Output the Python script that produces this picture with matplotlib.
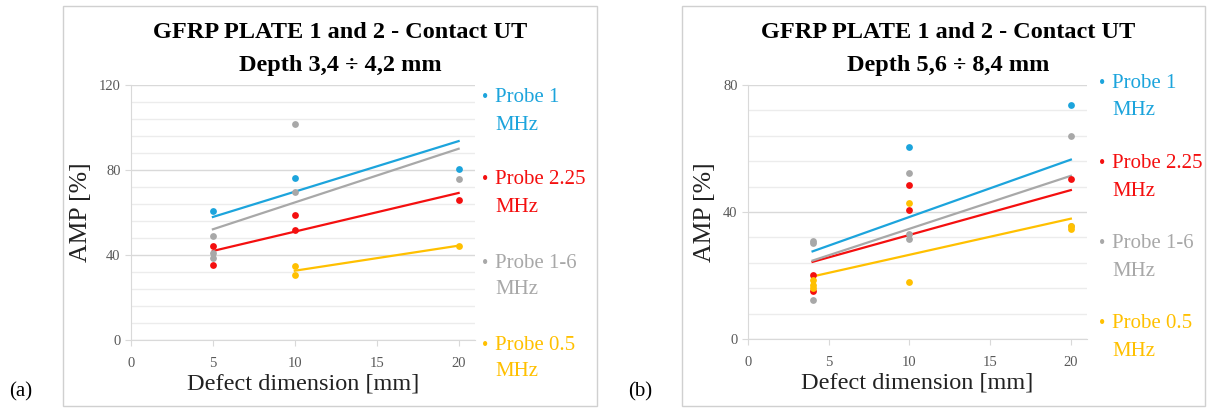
import matplotlib.pyplot as plt
from matplotlib.patches import Rectangle

plt.rcParams['font.family'] = ['Liberation Serif', 'DejaVu Serif']

blue = '#1ca4dc'
red = '#f40f0f'
gray = '#a8a8a8'
yellow = '#ffc000'
grid_major = '#d9d9d9'
grid_minor = '#ececec'

probe_names = ['Probe 1', 'Probe 2.25', 'Probe 1-6', 'Probe 0.5']
probe_colors = [blue, red, gray, yellow]

# panel (a): depth 3,4 - 4,2 mm
a_x_p1 = [5, 10, 20]
a_y_p1 = [60.7, 76.2, 80.3]
a_x_p225 = [5, 5, 10, 10, 20]
a_y_p225 = [44.4, 35.1, 58.7, 51.9, 65.7]
a_x_p16 = [5, 5, 5, 10, 10, 20]
a_y_p16 = [48.9, 41.0, 38.7, 101.6, 69.8, 75.9]
a_x_p05 = [10, 10, 20]
a_y_p05 = [34.7, 30.4, 44.2]

# trend lines (start x, end x / start y, end y)
a_trend_x = [[5, 20], [5, 20], [5, 20], [10, 20]]
a_trend_y = [[57.9, 93.6], [41.9, 69.2], [52.1, 90.0], [32.6, 44.4]]

# panel (b): depth 5,6 - 8,4 mm
b_x_p1 = [10, 20]
b_y_p1 = [60.4, 73.6]
b_x_p225 = [4, 4, 10, 10, 20]
b_y_p225 = [20.2, 15.0, 48.5, 40.5, 50.5]
b_x_p16 = [4, 4, 4, 10, 10, 10, 20, 20]
b_y_p16 = [31.0, 30.2, 12.4, 52.3, 33.1, 31.6, 63.9, 35.7]
b_x_p05 = [4, 4, 4, 10, 10, 20, 20]
b_y_p05 = [18.7, 17.1, 16.1, 42.8, 18.0, 35.5, 34.6]

b_trend_x = [[4, 20], [4, 20], [4, 20], [4, 20]]
b_trend_y = [[27.6, 56.5], [24.3, 46.9], [24.7, 51.4], [19.7, 37.9]]

x_ticks = [0, 5, 10, 15, 20]
a_y_ticks = [0, 40, 80, 120]
b_y_ticks = [0, 40, 80]

W, H = 1210, 408
fig = plt.figure(figsize=(W / 100, H / 100), dpi=100, facecolor='white')


def px(x, y):
    return x / W, 1 - y / H


def panel(frame, ax_box, series, trend_x, trend_y, y_ticks, title2,
          title_x, leg_x, leg_y, letter):
    # light frame round each chart, as in the spreadsheet export
    fx0, fx1, fy0, fy1 = frame
    fig.patches.append(Rectangle(px(fx0, fy1), (fx1 - fx0) / W,
                                 (fy1 - fy0) / H, transform=fig.transFigure,
                                 fill=False, edgecolor='#d0d0d0', lw=1))

    l, r, t, b = ax_box
    ax = fig.add_axes([l / W, 1 - b / H, (r - l) / W, (b - t) / H])
    ymax = y_ticks[-1]
    ax.set_xlim(0, 21)
    ax.set_ylim(0, ymax)

    minor = [v for v in range(0, ymax + 1, 8) if v not in y_ticks]
    ax.set_yticks(y_ticks)
    ax.set_yticks(minor, minor=True)
    ax.set_xticks(x_ticks)
    ax.grid(axis='y', which='major', color=grid_major, lw=1)
    ax.grid(axis='y', which='minor', color=grid_minor, lw=1)
    ax.set_axisbelow(True)
    for s in ['top', 'right']:
        ax.spines[s].set_visible(False)
    for s in ['left', 'bottom']:
        ax.spines[s].set_color(grid_major)
    ax.tick_params(which='both', colors=grid_major, labelcolor='#595959',
                   labelsize=10.5, length=4)
    ax.tick_params(axis='y', which='minor', length=0)
    ax.tick_params(axis='x', pad=8)

    for i in range(4):
        ax.plot(trend_x[i], trend_y[i], color=probe_colors[i], lw=1.6,
                zorder=2)
    for i in range(4):
        ax.scatter(series[i][0], series[i][1], s=24, color=probe_colors[i],
                   linewidths=0, zorder=3)

    ax.set_ylabel('AMP [%]', fontsize=18.5, color='#222222', labelpad=5)
    ax.set_xlabel('Defect dimension [mm]', fontsize=17.5, color='#222222',
                  labelpad=3)

    fig.text(*px(title_x, 33), 'GFRP PLATE 1 and 2 - Contact UT',
             ha='center', va='center', fontsize=17.5, fontweight='bold')
    fig.text(*px(title_x, 65), title2, ha='center', va='center',
             fontsize=17.5, fontweight='bold')

    for i, name in enumerate(probe_names):
        yy = leg_y[i]
        fig.text(*px(leg_x, yy), '\u2022', ha='center', va='center',
                 fontsize=13, color=probe_colors[i])
        fig.text(*px(leg_x + 10, yy), name, ha='left', va='center',
                 fontsize=15, color=probe_colors[i])
        fig.text(*px(leg_x + 10, yy + 27), 'MHz', ha='left', va='center',
                 fontsize=15, color=probe_colors[i])

    fig.text(*px(fx0 - 42, 392), letter, ha='center', va='center',
             fontsize=15)
    return ax


panel((63, 597, 6, 406), (131, 475, 85, 340),
      [(a_x_p1, a_y_p1), (a_x_p225, a_y_p225), (a_x_p16, a_y_p16),
       (a_x_p05, a_y_p05)],
      a_trend_x, a_trend_y, a_y_ticks, 'Depth 3,4 \u00f7 4,2 mm', 340,
      485, [98, 180, 263, 345], '(a)')

panel((682, 1205, 6, 406), (748, 1087, 85, 339),
      [(b_x_p1, b_y_p1), (b_x_p225, b_y_p225), (b_x_p16, b_y_p16),
       (b_x_p05, b_y_p05)],
      b_trend_x, b_trend_y, b_y_ticks, 'Depth 5,6 \u00f7 8,4 mm', 948,
      1102, [84, 164, 244, 324], '(b)')

fig.savefig('out.png', dpi=100, facecolor='white')
